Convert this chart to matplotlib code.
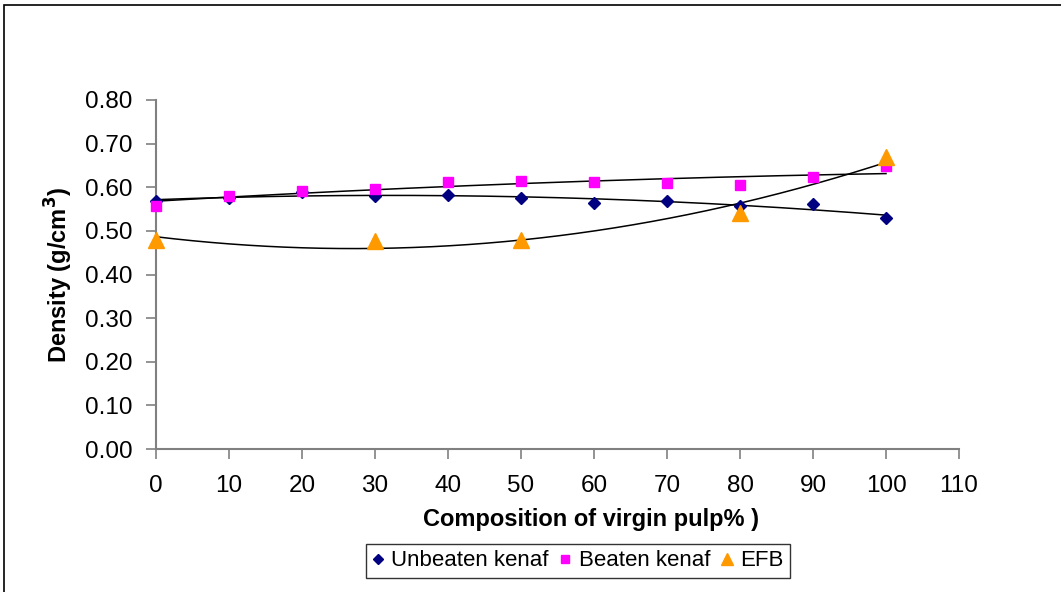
import numpy as np
import matplotlib.pyplot as plt
from matplotlib.patches import Rectangle

plt.rcParams['font.family'] = ['Liberation Sans', 'DejaVu Sans']

# composition of virgin pulp (%)
x_kenaf = [0, 10, 20, 30, 40, 50, 60, 70, 80, 90, 100]
unbeaten = [0.569, 0.575, 0.588, 0.581, 0.583, 0.575, 0.565, 0.569, 0.556, 0.562, 0.529]
beaten = [0.557, 0.581, 0.592, 0.596, 0.613, 0.615, 0.613, 0.609, 0.606, 0.623, 0.649]
x_efb = [0, 30, 50, 80, 100]
efb = [0.479, 0.477, 0.479, 0.541, 0.670]

x_ticks = list(range(0, 111, 10))
y_ticks = [0.0, 0.1, 0.2, 0.3, 0.4, 0.5, 0.6, 0.7, 0.8]

fig = plt.figure(figsize=(10.61, 5.92), dpi=100)
ax = fig.add_axes([156/1061, 1 - 449/592, (959 - 156)/1061, (449 - 100)/592])

# outer chart border (cut off at right/bottom like the original)
fig.patches.append(Rectangle((4/1061, -0.1), 1.2, 1 - 5/592 + 0.1,
                             transform=fig.transFigure, fill=False,
                             edgecolor='black', linewidth=1.2))

series = [
    (x_kenaf, unbeaten, 'D', '#000080', 6.5, 'Unbeaten kenaf'),
    (x_kenaf, beaten, 's', '#FF00FF', 7, 'Beaten kenaf'),
    (x_efb, efb, '^', '#FF9900', 11, 'EFB'),
]
for xs, ys, mk, col, ms, lab in series:
    # 2nd order polynomial trendline, as in the spreadsheet
    coef = np.polyfit(xs, ys, 2)
    xt = np.linspace(min(xs), max(xs), 200)
    ax.plot(xt, np.polyval(coef, xt), color='black', linewidth=1.1, zorder=2)
    ax.plot(xs, ys, linestyle='none', marker=mk, color=col, markersize=ms,
            label=lab, zorder=3, clip_on=False)

ax.set_xlim(0, 110)
ax.set_ylim(0, 0.8)
ax.set_xticks(x_ticks)
ax.set_yticks(y_ticks)
ax.set_yticklabels(['{:.2f}'.format(v) for v in y_ticks])
ax.tick_params(labelsize=17.5, direction='out', length=7, width=1.2,
               color='#808080')
ax.tick_params(axis='x', pad=12)
ax.tick_params(axis='y', pad=10)
for side in ['top', 'right']:
    ax.spines[side].set_visible(False)
for side in ['left', 'bottom']:
    ax.spines[side].set_color('#808080')
    ax.spines[side].set_linewidth(1.5)

ax.set_xlabel('Composition of virgin pulp% )', fontsize=17, fontweight='bold')
# the title sits a bit right of centre in the original
ax.xaxis.set_label_coords((591 - 156) / 803, (449 - 508) / 349)
ax.set_ylabel('Density (g/cm$^\\mathbf{3}$)', fontsize=17, fontweight='bold',
              labelpad=7)

leg = ax.legend(loc='center', bbox_to_anchor=(578/1061, 1 - 561/592),
                bbox_transform=fig.transFigure, ncol=3, fontsize=16,
                frameon=True, fancybox=False, handlelength=0.5,
                handletextpad=0.35, columnspacing=0.5, borderpad=0.3,
                markerscale=0.75)
leg.get_frame().set_edgecolor('black')
leg.get_frame().set_linewidth(1.0)

fig.savefig('out.png', dpi=100)
